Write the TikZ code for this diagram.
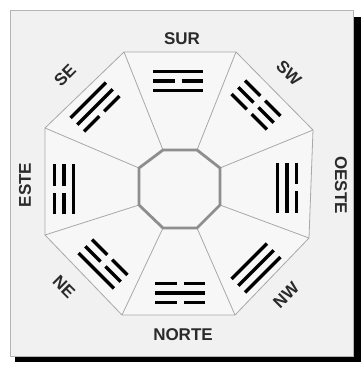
\documentclass[tikz,border=0pt]{standalone}
\usepackage{fontspec}
\setmainfont{Liberation Sans}
\definecolor{bgc}{HTML}{F1F1F1}
\definecolor{secc}{HTML}{F7F7F7}
\definecolor{framec}{HTML}{B4B4B4}
\definecolor{linec}{HTML}{A8A8A8}
\definecolor{innerc}{HTML}{8E8E8E}
\definecolor{txtc}{HTML}{2A2A2A}
\newcommand\tline[2]{%
  \ifnum#2=1
    \draw[trig] (-25,#1) -- (25,#1);
  \else
    \draw[trig] (-25,#1) -- (-3.5,#1);
    \draw[trig] (3.5,#1) -- (25,#1);
  \fi}
\newcommand\trigram[6]{%
  \begin{scope}[shift={(#1,#2)}, rotate=#3]
    \tline{9.5}{#4}\tline{0}{#5}\tline{-9.5}{#6}
  \end{scope}}
\begin{document}
\begin{tikzpicture}[x=1pt,y=-1pt,
  trig/.style={line width=3.3pt, black},
  thinline/.style={draw=linec, line width=0.8pt},
  lbl/.style={font=\fontsize{17}{17}\selectfont\bfseries, text=txtc, inner sep=0pt}]
\useasboundingbox (0,0) rectangle (361,365);
\fill[white] (0,0) rectangle (361,365);
\fill[black] (15,17) rectangle (361,362);
\draw[framec, fill=bgc, line width=1pt] (10,10) rectangle (353,356);
% outer octagon
\coordinate (o1) at (124,52);
\coordinate (o2) at (236,52);
\coordinate (o3) at (313,130);
\coordinate (o4) at (309,238);
\coordinate (o5) at (235,315);
\coordinate (o6) at (122,315);
\coordinate (o7) at (45,235);
\coordinate (o8) at (45,128);
% inner octagon
\coordinate (i1) at (163,150);
\coordinate (i2) at (197,150);
\coordinate (i3) at (220,168);
\coordinate (i4) at (220,205);
\coordinate (i5) at (197,228);
\coordinate (i6) at (163,228);
\coordinate (i7) at (139,205);
\coordinate (i8) at (139,168);
\fill[secc] (o1) -- (o2) -- (o3) -- (o4) -- (o5) -- (o6) -- (o7) -- (o8) -- cycle;
\draw[thinline] (o1) -- (o2) -- (o3) -- (o4) -- (o5) -- (o6) -- (o7) -- (o8) -- cycle;
\foreach \k in {1,...,8} { \draw[thinline] (o\k) -- (i\k); }
\draw[innerc, line width=2.8pt, line join=miter, fill=secc]
  (i1) -- (i2) -- (i3) -- (i4) -- (i5) -- (i6) -- (i7) -- (i8) -- cycle;
% trigrams: x y rotation inner middle outer
\trigram{178}{81}{0}{1}{0}{1}
\trigram{256}{105}{-45}{0}{0}{0}
\trigram{287}{187.5}{-90}{1}{1}{0}
\trigram{256}{268}{-135}{1}{1}{1}
\trigram{180}{293}{180}{0}{1}{0}
\trigram{103}{264}{135}{0}{0}{1}
\trigram{64}{189}{90}{1}{0}{0}
\trigram{95}{107}{45}{0}{1}{1}
% labels
\node[lbl] (sur) at (182,39) {SUR};
\node[lbl] (norte) at (183,335) {NORTE};
\node[lbl, rotate=90] (este) at (25,185) {ESTE};
\node[lbl, rotate=-90] (oeste) at (341,185) {OESTE};
\node[lbl, rotate=45] (se) at (65,75) {SE};
\node[lbl, rotate=-45] (sw) at (289,73) {SW};
\node[lbl, rotate=-45] (ne) at (64,287) {NE};
\node[lbl, rotate=45] (nw) at (286,295) {NW};
\end{tikzpicture}
\end{document}
